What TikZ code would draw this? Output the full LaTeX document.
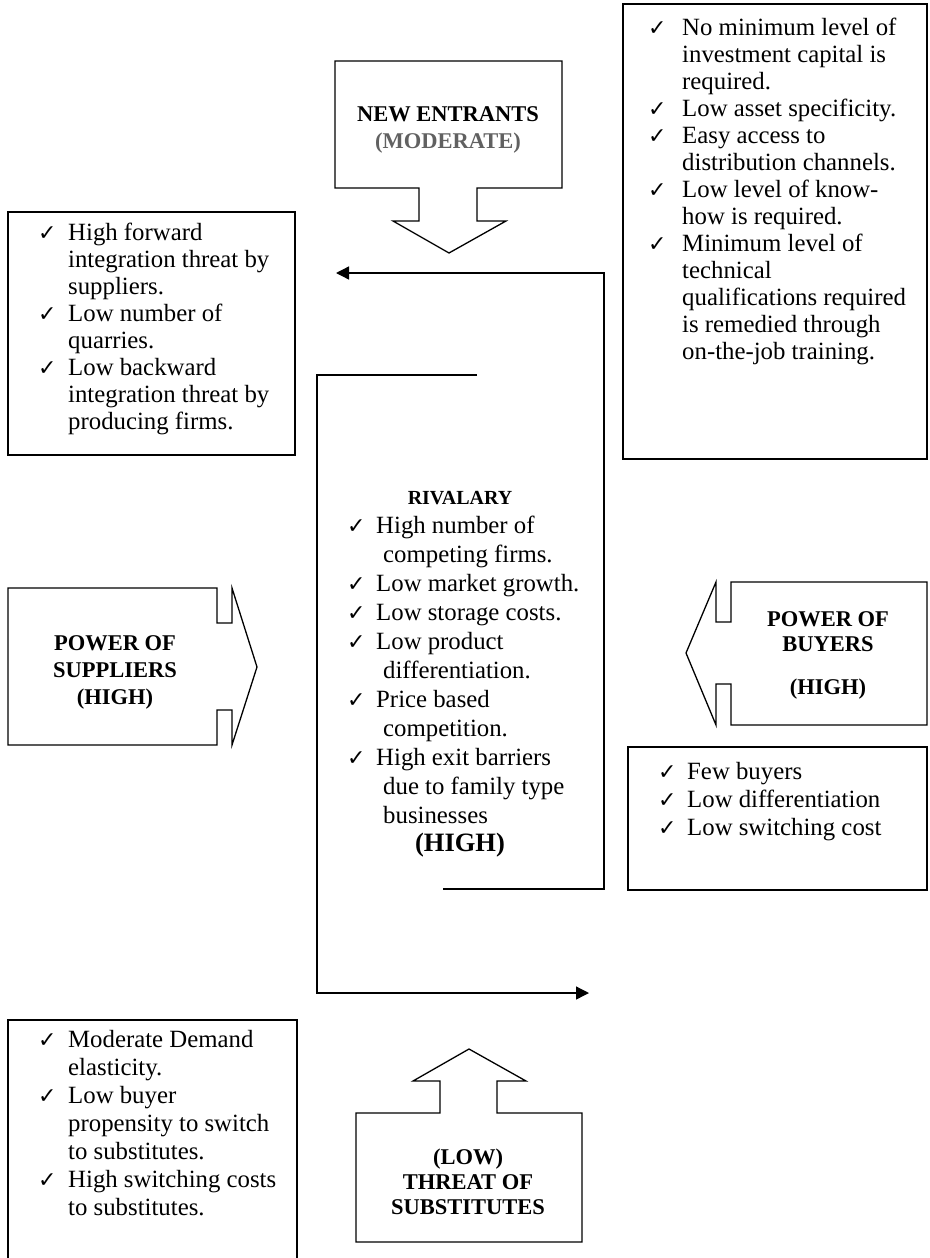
\documentclass[tikz,border=0pt]{standalone}
\usepackage{fontspec}
\setmainfont{Liberation Serif}
\newfontfamily\symfont{DejaVu Sans}
\usetikzlibrary{arrows.meta}

% check-mark bullet and a hanging list item: #1 bullet width, #2 hang, #3 text
\newcommand\ckmark{{\symfont\fontsize{22}{22}\selectfont ✓}}
\newcommand\citem[3]{\par\noindent\hangindent=#2\hangafter=1\strut\makebox[#1][l]{\ckmark}#3\par}
% body font for the lists: size #1, line pitch #2, plain word spaces
\newcommand\listfont[2]{\raggedright\fontsize{#1}{#2}\selectfont
  \spaceskip=\fontdimen2\font\relax\par\nointerlineskip}

\tikzset{
  x=1pt, y=-1pt,
  frame/.style={draw=black, line width=1.3pt, line join=miter},
  flow/.style={draw=black, line width=1.3pt, -{Triangle[length=13pt,width=13pt]}},
  listtext/.style={anchor=north west, inner sep=0pt, text width=#1},
  title/.style={inner sep=0pt, align=center, font=\bfseries\fontsize{22.5}{27}\selectfont},
}

\begin{document}
\begin{tikzpicture}
\useasboundingbox (0,0) rectangle (929,1258);
\clip (0,0) rectangle (929,1258);

% ---- threat of new entrants: block arrow pointing down ----
\draw[frame] (335,61) -- (562,61) -- (562,188) -- (477,188) -- (477,221) -- (506,221)
  -- (449,253) -- (393,221) -- (419,221) -- (419,188) -- (335,188) -- cycle;
\node[title] (entrants) at (448,130) {NEW ENTRANTS\\\textcolor{black!62}{(MODERATE)}};

% barriers-to-entry list
\draw[frame] (623,4) rectangle (927,459);
\node[listtext=290pt] (entlist) at (648,16) {\listfont{24.8}{27}
  \citem{34pt}{34pt}{No minimum level of\newline investment capital is\newline required.}
  \citem{34pt}{34pt}{Low asset specificity.}
  \citem{34pt}{34pt}{Easy access to\newline distribution channels.}
  \citem{34pt}{34pt}{Low level of know-\newline how is required.}
  \citem{34pt}{34pt}{Minimum level of\newline technical\newline qualifications required\newline is remedied through\newline on-the-job training.}};

% ---- supplier power ----
\draw[frame] (8,212) rectangle (295,455);
\node[listtext=265pt] (suplist) at (38,221) {\listfont{24.8}{27}
  \citem{30pt}{30pt}{High forward\newline integration threat by\newline suppliers.}
  \citem{30pt}{30pt}{Low number of\newline quarries.}
  \citem{30pt}{30pt}{Low backward\newline integration threat by\newline producing firms.}};

\draw[frame] (8,588) -- (217,588) -- (217,623) -- (232,623) -- (232,588) -- (257,667)
  -- (232,745) -- (232,710) -- (217,710) -- (217,745) -- (8,745) -- cycle;
\node[title] (suppliers) at (115,672) {POWER OF\\SUPPLIERS\\(HIGH)};

% ---- buyer power ----
\draw[frame] (927,582) -- (731,582) -- (731,622) -- (716,622) -- (716,582) -- (686,653)
  -- (716,725) -- (716,684) -- (731,684) -- (731,725) -- (927,725) -- cycle;
\node[title, font=\bfseries\fontsize{22.5}{25}\selectfont] (buyers) at (828,632) {POWER OF\\BUYERS};
\node[title] (buyershigh) at (828,689) {(HIGH)};

\draw[frame] (628,747) rectangle (927,890);
\node[listtext=265pt] (buylist) at (658,760) {\listfont{24.8}{28}
  \citem{29pt}{29pt}{Few buyers}
  \citem{29pt}{29pt}{Low differentiation}
  \citem{29pt}{29pt}{Low switching cost}};

% ---- rivalry ----
\node[title, font=\bfseries\fontsize{20}{24}\selectfont] (rivtitle) at (460,498) {RIVALARY};
\node[listtext=255pt] (rivlist) at (347,513) {\listfont{24.8}{29}
  \citem{29pt}{36pt}{High number of\newline competing firms.}
  \citem{29pt}{36pt}{Low market growth.}
  \citem{29pt}{36pt}{Low storage costs.}
  \citem{29pt}{36pt}{Low product\newline differentiation.}
  \citem{29pt}{36pt}{Price based\newline competition.}
  \citem{29pt}{36pt}{High exit barriers\newline due to family type\newline businesses}};
\node[title, font=\bfseries\fontsize{26.5}{30}\selectfont] (rivhigh) at (460,845) {(HIGH)};

% rivalry feedback loops
\coordinate (ra) at (443,889);
\coordinate (rb) at (604,889);
\coordinate (rc) at (604,273);
\coordinate (rd) at (336,273);
\draw[flow] (ra) -- (rb) -- (rc) -- (rd);

\coordinate (la) at (477,375);
\coordinate (lb) at (317,375);
\coordinate (lc) at (317,993);
\coordinate (ld) at (589,993);
\draw[flow] (la) -- (lb) -- (lc) -- (ld);

% ---- threat of substitutes: block arrow pointing up ----
\draw[frame] (356,1242) -- (356,1113) -- (440,1113) -- (440,1081) -- (413,1081) -- (469,1049)
  -- (526,1081) -- (497,1081) -- (497,1113) -- (582,1113) -- (582,1242) -- cycle;
\node[title, font=\bfseries\fontsize{22.5}{25}\selectfont] (substitutes) at (468,1182) {(LOW)\\THREAT OF\\SUBSTITUTES};

\draw[frame] (8,1020) rectangle (297,1275);
\node[listtext=265pt] (sublist) at (38,1028) {\listfont{24.8}{28}
  \citem{30pt}{30pt}{Moderate Demand\newline elasticity.}
  \citem{30pt}{30pt}{Low buyer\newline propensity to switch\newline to substitutes.}
  \citem{30pt}{30pt}{High switching costs\newline to substitutes.}};
\end{tikzpicture}
\end{document}
